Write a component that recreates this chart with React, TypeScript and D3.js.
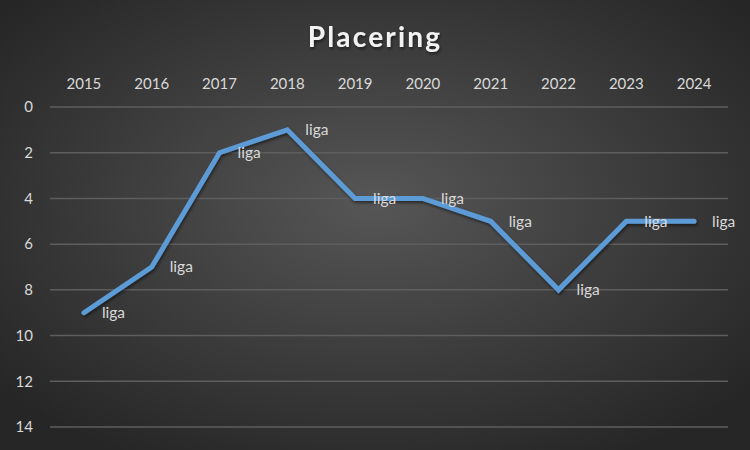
import React from "react";
import * as d3 from "d3";

const years = ["2015","2016","2017","2018","2019","2020","2021","2022","2023","2024"];
const placering = [9, 7, 2, 1, 4, 4, 5, 8, 5, 5];
const labels = ["liga","liga","liga","liga","liga","liga","liga","liga","liga","liga"];
const yTicks = [0, 2, 4, 6, 8, 10, 12, 14];

const W = 750, H = 450;
const left = 50, right = 728, top = 107, bottom = 427;

export default function App() {
  const x = d3.scaleBand<string>().domain(years).range([left, right]);
  const y = d3.scaleLinear().domain([0, 14]).range([top, bottom]);
  const pts = years.map((yr, i) => [x(yr)! + x.bandwidth() / 2, y(placering[i])] as [number, number]);
  const line = d3.line()(pts) || "";
  const font = "Lato, 'Open Sans', sans-serif";
  return (
    <svg width={W} height={H} style={{ position: "absolute", left: 0, top: 0 }}>
      <defs>
        <radialGradient id="bg" cx="50%" cy="45%" r="65%">
          <stop offset="0%" stopColor="#565656" />
          <stop offset="100%" stopColor="#262626" />
        </radialGradient>
        <filter id="sh" x="-10%" y="-10%" width="120%" height="130%">
          <feDropShadow dx="1" dy="2" stdDeviation="1.5" floodColor="#000" floodOpacity="0.5" />
        </filter>
      </defs>
      <rect width={W} height={H} fill="url(#bg)" />
      <text x={375} y={47} textAnchor="middle" fill="#f2f2f2" fontFamily={font} fontWeight="bold" fontSize={28} letterSpacing={2.2} filter="url(#sh)">Placering</text>
      {yTicks.map(t => (
        <g key={t}>
          <line x1={left} x2={right} y1={y(t)} y2={y(t)} stroke="#5e5e5e" strokeWidth={1.5} />
          <text x={33} y={y(t)} dy="0.35em" textAnchor="end" fill="#d9d9d9" fontFamily={font} fontSize={15}>{t}</text>
        </g>
      ))}
      {years.map(yr => (
        <text key={yr} x={x(yr)! + x.bandwidth() / 2} y={84} dy="0.35em" textAnchor="middle" fill="#d9d9d9" fontFamily={font} fontSize={15}>{yr}</text>
      ))}
      <path d={line} fill="none" stroke="#5b9bd5" strokeWidth={5} strokeLinecap="round" strokeLinejoin="miter" filter="url(#sh)" />
      {pts.map((p, i) => (
        <text key={i} x={p[0] + 18} y={p[1]} dy="0.35em" fill="#d9d9d9" fontFamily={font} fontSize={15.5}>{labels[i]}</text>
      ))}
    </svg>
  );
}
